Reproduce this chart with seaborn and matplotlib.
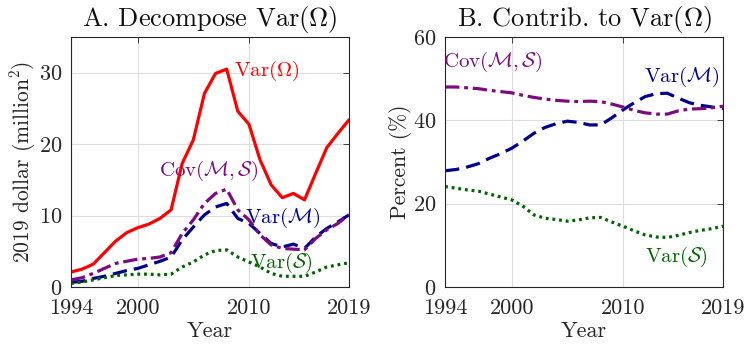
import matplotlib
matplotlib.use("Agg")
import matplotlib.pyplot as plt
import seaborn as sns
import numpy as np

years = list(range(1994, 2020))

# Panel A: 2019 dollar (million^2)
var_omega = [2.1, 2.5, 3.2, 4.8, 6.4, 7.6, 8.3, 8.8, 9.6, 10.8, 17.3, 20.6, 27.1, 29.9, 30.5,
             24.6, 22.8, 17.8, 14.3, 12.5, 13.1, 12.2, 15.9, 19.5, 21.5, 23.4]
cov_ms = [1.0, 1.3, 1.9, 2.6, 3.3, 3.6, 3.9, 4.0, 4.2, 4.8, 7.5, 9.4, 11.7, 13.1, 13.7,
          10.8, 9.4, 7.3, 5.9, 5.4, 5.3, 5.2, 6.8, 8.0, 8.9, 10.1]
var_m = [0.65, 0.8, 1.2, 1.5, 1.9, 2.3, 2.6, 3.1, 3.6, 4.2, 6.6, 8.4, 10.1, 11.2, 11.7,
         9.6, 8.9, 7.5, 6.1, 5.6, 6.0, 5.4, 7.0, 8.2, 9.1, 10.1]
var_s = [0.5, 0.7, 1.0, 1.3, 1.6, 1.7, 1.8, 1.8, 1.7, 1.8, 2.8, 3.5, 4.5, 5.1, 5.2,
         4.2, 3.5, 2.8, 1.9, 1.5, 1.5, 1.5, 2.1, 2.8, 3.1, 3.4]

# Panel B: percent contribution
pct_cov = [48.0, 48.0, 47.8, 47.6, 47.2, 46.9, 46.6, 46.0, 45.5, 45.1, 44.8, 44.6, 44.5,
           44.6, 44.5, 43.9, 43.2, 42.4, 41.8, 41.5, 41.5, 42.3, 42.7, 42.8, 43.0, 43.4]
pct_m = [27.9, 28.2, 28.8, 29.6, 30.9, 32.0, 33.3, 35.0, 36.9, 38.3, 39.2, 39.8, 39.5,
         38.9, 38.9, 40.6, 42.5, 44.2, 45.7, 46.4, 46.5, 45.3, 44.2, 43.6, 43.2, 42.8]
pct_s = [24.1, 23.7, 23.3, 23.0, 22.3, 21.6, 20.9, 19.4, 17.3, 16.5, 16.2, 15.8, 16.1,
         16.6, 16.7, 15.6, 14.6, 13.5, 12.5, 12.0, 11.9, 12.4, 13.1, 13.6, 14.0, 14.6]

xticks = [1994, 2000, 2010, 2019]

sns.set_style("white")
plt.rcParams["font.family"] = ["cmr10"]
plt.rcParams["mathtext.fontset"] = "cm"
plt.rcParams["axes.formatter.use_mathtext"] = True
plt.rcParams["axes.unicode_minus"] = False

RED = "#ff0000"
PURPLE = "#7e0a80"
BLUE = "#00008b"
GREEN = "#006400"
TXT = "#262626"
LW = 2.3

fig = plt.figure(figsize=(7.46, 3.5), dpi=100)
axA = fig.add_axes([71/746, 63/350, 278/746, 250/350])
axB = fig.add_axes([445/746, 63/350, 278/746, 250/350])

def style(ax, yticks, ylim):
    ax.set_xlim(1994, 2019)
    ax.set_ylim(*ylim)
    ax.set_xticks(xticks)
    ax.set_xticklabels([str(t) for t in xticks])
    ax.set_yticks(yticks)
    ax.grid(True, color="#dddddd", linewidth=0.8)
    ax.set_axisbelow(True)
    for s in ax.spines.values():
        s.set_color(TXT)
        s.set_linewidth(0.8)
    ax.tick_params(direction="in", top=True, right=True, length=4, width=0.6,
                   labelsize=16, colors=TXT)
    ax.tick_params(axis="x", pad=8.5)
    ax.tick_params(axis="y", pad=6)
    ax.set_xlabel("Year", fontsize=16, color=TXT, labelpad=2)

# Panel A
sns.lineplot(x=years, y=var_omega, ax=axA, color=RED, lw=LW, linestyle="-")
sns.lineplot(x=years, y=var_m, ax=axA, color=BLUE, lw=LW,
             linestyle=(0, (4.5, 2.2)))
sns.lineplot(x=years, y=cov_ms, ax=axA, color=PURPLE, lw=LW,
             linestyle=(0, (4.5, 1.5, 1.2, 1.5)))
sns.lineplot(x=years, y=var_s, ax=axA, color=GREEN, lw=LW, linestyle=(0, (0.9, 1.2)))
style(axA, [0, 10, 20, 30], (0, 35))
axA.set_ylabel(r"2019 dollar (million$^2$)", fontsize=15.5, color=TXT, labelpad=1)
axA.set_title(r"A. Decompose Var$(\Omega)$", fontsize=19, color="#111111", pad=8)
axA.text(2011.6, 30.3, r"Var$(\Omega)$", color=RED, fontsize=15, ha="center", va="center")
axA.text(2006.4, 16.3, r"Cov$(\mathcal{M},\mathcal{S})$", color=PURPLE, fontsize=15,
         ha="center", va="center")
axA.text(2013.0, 9.6, r"Var$(\mathcal{M})$", color=BLUE, fontsize=15, ha="center", va="center")
axA.text(2012.9, 3.3, r"Var$(\mathcal{S})$", color=GREEN, fontsize=15, ha="center", va="center")

# Panel B
sns.lineplot(x=years, y=pct_m, ax=axB, color=BLUE, lw=LW, linestyle=(0, (4.5, 2.2)))
sns.lineplot(x=years, y=pct_cov, ax=axB, color=PURPLE, lw=LW,
             linestyle=(0, (4.5, 1.5, 1.2, 1.5)))
sns.lineplot(x=years, y=pct_s, ax=axB, color=GREEN, lw=LW, linestyle=(0, (0.9, 1.2)))
style(axB, [0, 20, 40, 60], (0, 60))
axB.set_ylabel("Percent (%)", fontsize=15.5, color=TXT, labelpad=1)
axB.set_title(r"B. Contrib. to Var$(\Omega)$", fontsize=19, color="#111111", pad=8)
axB.text(1998.3, 54.0, r"Cov$(\mathcal{M},\mathcal{S})$", color=PURPLE, fontsize=15,
         ha="center", va="center")
axB.text(2015.3, 50.5, r"Var$(\mathcal{M})$", color=BLUE, fontsize=15, ha="center", va="center")
axB.text(2014.8, 7.3, r"Var$(\mathcal{S})$", color=GREEN, fontsize=15, ha="center", va="center")

fig.savefig("out.png", dpi=100)
